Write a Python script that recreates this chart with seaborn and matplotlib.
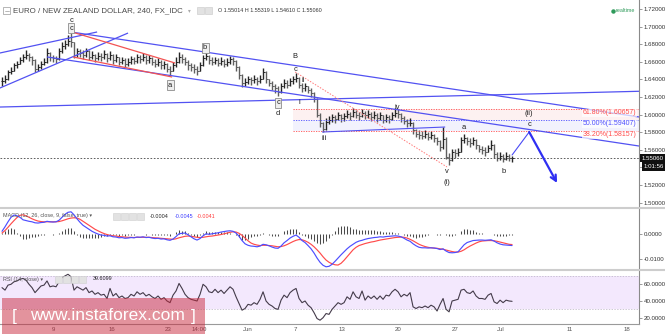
import numpy as np
import pandas as pd
import matplotlib
matplotlib.use("Agg")
import matplotlib.pyplot as plt
from matplotlib.patches import Rectangle
from matplotlib.lines import Line2D
from matplotlib.ticker import FuncFormatter
import seaborn as sns

# ---------------- EUR/NZD, 4h bars ----------------
bar_close = [
    1.638, 1.640, 1.648, 1.650, 1.656, 1.658, 1.662, 1.665, 1.668, 1.666,
    1.662, 1.652, 1.654, 1.658, 1.660, 1.670, 1.665, 1.664, 1.663, 1.672,
    1.678, 1.680, 1.684, 1.682, 1.668, 1.672, 1.670, 1.668, 1.672, 1.666,
    1.668, 1.664, 1.667, 1.665, 1.669, 1.664, 1.668, 1.662, 1.665, 1.660,
    1.662, 1.658, 1.660, 1.663, 1.661, 1.665, 1.663, 1.666, 1.662, 1.664,
    1.660, 1.658, 1.660, 1.656, 1.657, 1.652, 1.650, 1.656, 1.660, 1.666,
    1.663, 1.660, 1.656, 1.654, 1.652, 1.650, 1.656, 1.664, 1.667, 1.662,
    1.660, 1.662, 1.659, 1.661, 1.658, 1.660, 1.663, 1.661, 1.654, 1.645,
    1.636, 1.637, 1.640, 1.639, 1.641, 1.638, 1.641, 1.648, 1.640, 1.636,
    1.633, 1.630, 1.626, 1.632, 1.636, 1.634, 1.638, 1.640, 1.642, 1.634,
    1.630, 1.632, 1.628, 1.625, 1.618, 1.600, 1.590, 1.584, 1.592, 1.594,
    1.597, 1.595, 1.599, 1.596, 1.598, 1.601, 1.598, 1.603, 1.600, 1.598,
    1.602, 1.599, 1.601, 1.597, 1.600, 1.596, 1.599, 1.594, 1.597, 1.595,
    1.599, 1.602, 1.601, 1.596, 1.593, 1.590, 1.591, 1.582, 1.578, 1.577,
    1.576, 1.578, 1.575, 1.577, 1.573, 1.570, 1.563, 1.572, 1.552, 1.548,
    1.557, 1.556, 1.558, 1.571, 1.573, 1.570, 1.568, 1.571, 1.565, 1.561,
    1.560, 1.558, 1.562, 1.566, 1.555, 1.551, 1.553, 1.550, 1.553, 1.55014,
    1.55060,
]
bar_high = [
    1.643, 1.645, 1.651, 1.654, 1.659, 1.661, 1.666, 1.669, 1.673, 1.670,
    1.667, 1.663, 1.658, 1.661, 1.664, 1.676, 1.671, 1.668, 1.667, 1.676,
    1.682, 1.685, 1.690, 1.693, 1.683, 1.676, 1.675, 1.673, 1.676, 1.673,
    1.672, 1.669, 1.671, 1.670, 1.673, 1.670, 1.672, 1.669, 1.669, 1.666,
    1.666, 1.664, 1.664, 1.667, 1.666, 1.669, 1.668, 1.670, 1.668, 1.668,
    1.666, 1.663, 1.664, 1.662, 1.661, 1.659, 1.655, 1.660, 1.665, 1.671,
    1.669, 1.665, 1.662, 1.659, 1.657, 1.655, 1.660, 1.668, 1.673, 1.668,
    1.665, 1.666, 1.664, 1.665, 1.663, 1.664, 1.667, 1.666, 1.662, 1.655,
    1.646, 1.642, 1.644, 1.643, 1.645, 1.643, 1.645, 1.653, 1.649, 1.641,
    1.638, 1.635, 1.632, 1.636, 1.640, 1.639, 1.642, 1.644, 1.647, 1.643,
    1.636, 1.636, 1.633, 1.630, 1.626, 1.619, 1.602, 1.592, 1.596, 1.598,
    1.601, 1.600, 1.603, 1.601, 1.602, 1.605, 1.603, 1.608, 1.605, 1.603,
    1.606, 1.604, 1.605, 1.603, 1.604, 1.602, 1.603, 1.600, 1.601, 1.600,
    1.603, 1.607, 1.606, 1.602, 1.598, 1.595, 1.596, 1.592, 1.584, 1.582,
    1.581, 1.582, 1.580, 1.581, 1.578, 1.575, 1.571, 1.586, 1.574, 1.556,
    1.561, 1.561, 1.562, 1.575, 1.578, 1.575, 1.573, 1.575, 1.572, 1.566,
    1.564, 1.563, 1.566, 1.571, 1.567, 1.557, 1.557, 1.555, 1.557, 1.555,
    1.55319,
]
bar_low = [
    1.633, 1.636, 1.639, 1.646, 1.649, 1.653, 1.657, 1.660, 1.663, 1.661,
    1.656, 1.648, 1.650, 1.652, 1.656, 1.659, 1.661, 1.660, 1.659, 1.662,
    1.670, 1.675, 1.678, 1.677, 1.664, 1.666, 1.665, 1.663, 1.666, 1.662,
    1.663, 1.660, 1.662, 1.661, 1.663, 1.660, 1.662, 1.658, 1.660, 1.656,
    1.657, 1.654, 1.655, 1.658, 1.657, 1.659, 1.659, 1.661, 1.658, 1.659,
    1.656, 1.654, 1.655, 1.652, 1.652, 1.648, 1.645, 1.649, 1.654, 1.659,
    1.659, 1.656, 1.651, 1.649, 1.647, 1.645, 1.649, 1.655, 1.662, 1.658,
    1.656, 1.657, 1.655, 1.656, 1.654, 1.655, 1.658, 1.656, 1.650, 1.641,
    1.631, 1.633, 1.635, 1.634, 1.636, 1.634, 1.636, 1.640, 1.636, 1.632,
    1.628, 1.625, 1.621, 1.625, 1.630, 1.630, 1.633, 1.635, 1.637, 1.630,
    1.626, 1.627, 1.624, 1.620, 1.614, 1.597, 1.586, 1.580, 1.582, 1.589,
    1.592, 1.591, 1.594, 1.592, 1.593, 1.596, 1.594, 1.597, 1.596, 1.594,
    1.597, 1.595, 1.596, 1.593, 1.595, 1.592, 1.594, 1.590, 1.592, 1.591,
    1.594, 1.597, 1.596, 1.592, 1.589, 1.586, 1.587, 1.578, 1.574, 1.572,
    1.572, 1.573, 1.571, 1.572, 1.569, 1.565, 1.559, 1.561, 1.549, 1.543,
    1.547, 1.551, 1.553, 1.557, 1.568, 1.566, 1.563, 1.566, 1.561, 1.557,
    1.555, 1.553, 1.557, 1.560, 1.551, 1.547, 1.548, 1.546, 1.548, 1.547,
    1.54610,
]

# MACD (12, 26, close, 9)
macd_line = [
    0.0012, 0.0030, 0.0050, 0.0068, 0.0077, 0.0074, 0.0068, 0.0058, 0.0055, 0.0052,
    0.0050, 0.0046, 0.0045, 0.0047, 0.0048, 0.0052, 0.0050, 0.0049, 0.0050, 0.0056,
    0.0068, 0.0080, 0.0088, 0.0090, 0.0078, 0.0062, 0.0048, 0.0036, 0.0028, 0.0020,
    0.0012, 0.0006, 0.0001, -0.0003, -0.0004, -0.0007, -0.0006, -0.0010, -0.0011, -0.0014,
    -0.0013, -0.0016, -0.0015, -0.0013, -0.0014, -0.0011, -0.0012, -0.0010, -0.0013, -0.0012,
    -0.0015, -0.0017, -0.0016, -0.0019, -0.0018, -0.0022, -0.0024, -0.0019, -0.0009, 0.0002,
    0.0004, 0.0005, -0.0002, -0.0010, -0.0018, -0.0023, -0.0017, -0.0006, 0.0002, 0.0000,
    0.0002, 0.0004, 0.0006, 0.0009, 0.0011, 0.0013, 0.0014, 0.0012, 0.0005, -0.0008,
    -0.0025, -0.0038, -0.0044, -0.0047, -0.0048, -0.0050, -0.0047, -0.0040, -0.0042, -0.0046,
    -0.0051, -0.0055, -0.0056, -0.0047, -0.0034, -0.0025, -0.0015, -0.0008, -0.0003, -0.0012,
    -0.0025, -0.0033, -0.0045, -0.0058, -0.0075, -0.0095, -0.0112, -0.0124, -0.0130, -0.0128,
    -0.0120, -0.0108, -0.0095, -0.0082, -0.0070, -0.0058, -0.0048, -0.0040, -0.0032, -0.0027,
    -0.0024, -0.0020, -0.0017, -0.0015, -0.0013, -0.0012, -0.0010, -0.0011, -0.0009, -0.0008,
    -0.0007, -0.0006, -0.0007, -0.0010, -0.0016, -0.0023, -0.0028, -0.0038, -0.0046, -0.0052,
    -0.0054, -0.0054, -0.0055, -0.0054, -0.0055, -0.0057, -0.0061, -0.0058, -0.0067, -0.0073,
    -0.0074, -0.0073, -0.0070, -0.0056, -0.0042, -0.0033, -0.0029, -0.0025, -0.0024, -0.0023,
    -0.0023, -0.0024, -0.0023, -0.0022, -0.0027, -0.0034, -0.0039, -0.0042, -0.0043, -0.0044,
    -0.0045,
]
macd_signal = [
    0.0005, 0.0015, 0.0028, 0.0042, 0.0055, 0.0067, 0.0076, 0.0078, 0.0074, 0.0068,
    0.0062, 0.0057, 0.0053, 0.0051, 0.0050, 0.0050, 0.0050, 0.0050, 0.0050, 0.0051,
    0.0054, 0.0058, 0.0062, 0.0065, 0.0066, 0.0065, 0.0060, 0.0052, 0.0044, 0.0036,
    0.0028, 0.0020, 0.0014, 0.0008, 0.0003, -0.0001, -0.0004, -0.0006, -0.0007, -0.0009,
    -0.0010, -0.0011, -0.0012, -0.0012, -0.0013, -0.0012, -0.0012, -0.0012, -0.0012, -0.0012,
    -0.0013, -0.0014, -0.0015, -0.0016, -0.0017, -0.0018, -0.0019, -0.0020, -0.0018, -0.0014,
    -0.0011, -0.0008, -0.0007, -0.0008, -0.0010, -0.0012, -0.0013, -0.0012, -0.0010, -0.0008,
    -0.0007, -0.0005, -0.0003, -0.0001, 0.0002, 0.0005, 0.0008, 0.0010, 0.0009, 0.0004,
    -0.0004, -0.0015, -0.0026, -0.0035, -0.0040, -0.0043, -0.0045, -0.0044, -0.0044, -0.0045,
    -0.0046, -0.0048, -0.0050, -0.0049, -0.0046, -0.0041, -0.0035, -0.0029, -0.0024, -0.0021,
    -0.0022, -0.0026, -0.0032, -0.0040, -0.0050, -0.0062, -0.0075, -0.0090, -0.0103, -0.0112,
    -0.0118, -0.0122, -0.0123, -0.0116, -0.0104, -0.0090, -0.0076, -0.0062, -0.0052, -0.0045,
    -0.0041, -0.0037, -0.0034, -0.0031, -0.0029, -0.0026, -0.0023, -0.0021, -0.0019, -0.0017,
    -0.0015, -0.0013, -0.0012, -0.0011, -0.0012, -0.0015, -0.0020, -0.0026, -0.0033, -0.0040,
    -0.0045, -0.0049, -0.0052, -0.0054, -0.0055, -0.0056, -0.0058, -0.0060, -0.0063, -0.0066,
    -0.0069, -0.0071, -0.0071, -0.0068, -0.0062, -0.0054, -0.0047, -0.0041, -0.0035, -0.0030,
    -0.0027, -0.0026, -0.0025, -0.0025, -0.0026, -0.0028, -0.0031, -0.0034, -0.0037, -0.0040,
    -0.0041,
]

# RSI (14, close)
rsi_values = [
    56, 53, 59, 60, 63, 64, 66, 67, 65, 60,
    56, 50, 54, 58, 59, 64, 57, 58, 57, 63,
    68, 70, 72, 69, 53, 57, 55, 53, 56, 50,
    52, 48, 50, 47, 48, 43, 55, 46, 49, 44,
    46, 43, 44, 48, 46, 51, 48, 50, 46, 48,
    45, 43, 46, 42, 44, 40, 38, 47, 52, 61,
    55, 48, 44, 42, 41, 40, 48, 60, 57, 51,
    50, 54, 50, 53, 49, 53, 57, 54, 45, 37,
    29, 31, 36, 35, 38, 36, 42, 51, 40, 36,
    34, 31, 30, 41, 47, 44, 50, 53, 55, 43,
    38, 40, 35, 32, 26, 19, 17, 20, 25, 24,
    30, 34, 38, 36, 38, 45, 42, 51, 45, 43,
    52, 41, 46, 43, 46, 42, 46, 42, 47, 46,
    51, 54, 51, 45, 48, 46, 50, 33, 31, 33,
    32, 34, 32, 35, 33, 28, 36, 43, 30, 27,
    40, 41, 42, 53, 54, 50, 49, 52, 46, 43,
    43, 42, 47, 49, 39, 37, 41, 38, 41, 40,
    39.6099,
]

# time axis
x_tick_pos = [17.3, 36.7, 55.3, 65.7, 82.0, 97.7, 113.3, 132.0, 151.0, 166.3, 189.3, 208.3]
x_tick_labels = ["9", "16", "23", "14:00", "Jun", "7", "13", "20", "27", "Jul", "11", "18"]
x_range = (-0.67, 212.3)

price_ticks = [1.50, 1.52, 1.54, 1.56, 1.58, 1.60, 1.62, 1.64, 1.66, 1.68, 1.70, 1.72]
macd_ticks = [0.0, -0.01]
rsi_ticks = [20, 40, 60]

# Fibonacci retracement of wave (i)
fib_start = 97.0
fib_names = ["61.80%", "50.00%", "38.20%"]
fib_levels = [1.60657, 1.59407, 1.58157]
fib_colors = ["#ff4d4d", "#4f4fff", "#ff4d4d"]

# trend lines: (bar, price) -> (bar, price), colour, width, style
BLUE, RED = "#5252f2", "#f25353"
trend_lines = [
    ((-0.7, 1.6700), (31.7, 1.6939), BLUE, 0.9, "-"),
    ((-0.7, 1.6302), (42.0, 1.6927), BLUE, 0.9, "-"),
    ((23.0, 1.6939), (212.3, 1.5973), BLUE, 0.9, "-"),
    ((15.0, 1.6655), (212.3, 1.5643), BLUE, 0.9, "-"),
    ((-0.7, 1.6086), (212.3, 1.6265), BLUE, 0.9, "-"),
    ((23.3, 1.6939), (57.7, 1.6586), RED, 0.9, "-"),
    ((23.7, 1.6655), (56.7, 1.6427), RED, 0.9, "-"),
    ((106.7, 1.5802), (147.7, 1.5859), BLUE, 0.8, "-"),
    ((97.7, 1.6484), (148.3, 1.5405), "#ff7a7a", 0.7, (0, (1.5, 1.5))),
]
# projected wave (ii) c and the following decline
projection = [(170.0, 1.5541), (175.7, 1.5802)]
decline_end = (185.0, 1.5223)

# Elliott wave labels: text, bar, price, boxed
wave_labels = [
    ("c", 23.0, 1.7075, False),
    ("c", 23.0, 1.6984, True),
    ("a", 56.0, 1.6336, True),
    ("b", 67.7, 1.6757, True),
    ("c", 92.0, 1.6132, True),
    ("d", 92.0, 1.6018, False),
    ("B", 97.7, 1.6655, False),
    ("c", 97.7, 1.6518, False),
    ("ii", 100.3, 1.6393, False),
    ("i", 99.0, 1.6143, False),
    ("iii", 107.3, 1.5734, False),
    ("iv", 131.7, 1.6086, False),
    ("v", 148.3, 1.5359, False),
    ("(i)", 148.3, 1.5223, False),
    ("a", 154.0, 1.5848, False),
    ("b", 167.3, 1.5359, False),
    ("(ii)", 175.7, 1.6018, False),
    ("c", 175.7, 1.5882, False),
]

# ---------------- frames ----------------
bars = pd.DataFrame({"high": bar_high, "low": bar_low, "close": bar_close})
bars["bar"] = np.arange(len(bars))
bars["open"] = bars["close"].shift(1).fillna(bars["close"].iloc[0])

ind = pd.DataFrame({"bar": np.arange(len(macd_line)), "macd": macd_line,
                    "signal": macd_signal, "rsi": rsi_values})
ind["hist"] = ind["macd"] - ind["signal"]

# ---------------- figure ----------------
sns.set_theme(style="white")
plt.rcParams["font.family"] = ["Liberation Sans", "DejaVu Sans"]

W, H = 665, 334
fig = plt.figure(figsize=(W / 100, H / 100), dpi=100)
fig.patch.set_facecolor("white")


def fx(px):
    return px / W


def fy(py):
    return 1 - py / H


AXR = 639
ax_p = fig.add_axes([0, fy(208), fx(AXR), 208 / H])
ax_m = fig.add_axes([0, fy(270), fx(AXR), 62 / H])
ax_r = fig.add_axes([0, fy(324), fx(AXR), 54 / H])

# ---- price panel ----
up = bars["close"] >= bars["open"]
for mask, col in ((up, "#262626"), (~up, "#5f5f5f")):
    b = bars[mask]
    ax_p.vlines(b["bar"], b["low"], b["high"], colors=col, lw=1.0)
    ax_p.hlines(b["open"], b["bar"] - 0.5, b["bar"], colors=col, lw=0.7)
    ax_p.hlines(b["close"], b["bar"], b["bar"] + 0.5, colors=col, lw=0.7)

# Fibonacci zone
ax_p.fill_between([fib_start, x_range[1]], fib_levels[1], fib_levels[0], color="#fdf1f1", lw=0, zorder=0)
ax_p.fill_between([fib_start, x_range[1]], fib_levels[2], fib_levels[1], color="#f2f2fd", lw=0, zorder=0)
for name, lev, col in zip(fib_names, fib_levels, fib_colors):
    ax_p.hlines(lev, fib_start, x_range[1], colors=col, lw=0.6, linestyles=(0, (1.5, 1.5)))
    ax_p.annotate(f"{name}({lev:.5f})", xy=(x_range[1] - 0.9, lev), xytext=(0, -3),
                  textcoords="offset points", ha="right", va="center", fontsize=5.0, color=col,
                  bbox=dict(boxstyle="square,pad=0.1", fc="white", ec="none", alpha=0.7))

for (x0, p0), (x1, p1), col, lw, ls in trend_lines:
    ax_p.plot([x0, x1], [p0, p1], color=col, lw=lw, ls=ls, solid_capstyle="butt")

px_, py_ = zip(*projection)
ax_p.plot(px_, py_, color="#4a4af5", lw=0.8)
ax_p.annotate("", xy=decline_end, xytext=projection[-1],
              arrowprops=dict(arrowstyle="->", color="#2f2ff2", lw=1.6,
                              mutation_scale=10, shrinkA=0, shrinkB=0))

last_close = bars["close"].iloc[-1]
ax_p.axhline(last_close, color="#444", lw=0.6, ls=(0, (2, 2)))

for txt, xb, pr, boxed in wave_labels:
    kw = {}
    if boxed:
        kw["bbox"] = dict(boxstyle="square,pad=0.18", fc="#eeeeee", ec="#8c8c8c", lw=0.6)
    ax_p.text(xb, pr, txt, ha="center", va="center", fontsize=5.4, color="#1e1e1e", **kw)

ax_p.set_ylim(1.49386, 1.73023)
ax_p.set_yticks(price_ticks)
ax_p.yaxis.set_major_formatter(FuncFormatter(lambda v, _: f"{v:.5f}"))

# last price tags
tr = ax_p.get_yaxis_transform()
ax_p.text(1.004, last_close, f"{last_close:.5f}", transform=tr, ha="left", va="center",
          fontsize=4.4, color="white", clip_on=False, zorder=10,
          bbox=dict(boxstyle="square,pad=0.3", fc="#111111", ec="none"))
ax_p.annotate("1:01:56", xy=(1.004, last_close), xycoords=tr, xytext=(1.6, -6),
              textcoords="offset points", ha="left", va="center", fontsize=4.4,
              color="white", annotation_clip=False, zorder=10,
              bbox=dict(boxstyle="square,pad=0.3", fc="#111111", ec="none"))

# ---- MACD panel ----
ax_m.vlines(ind["bar"], 0, ind["hist"], colors="#4a4a4a", lw=0.75)
sns.lineplot(data=ind, x="bar", y="signal", ax=ax_m, color="#ff4b4b", lw=0.85)
sns.lineplot(data=ind, x="bar", y="macd", ax=ax_m, color="#4d4dff", lw=0.85)
ax_m.set_ylim(-0.01428, 0.01052)
ax_m.set_yticks(macd_ticks)
ax_m.yaxis.set_major_formatter(FuncFormatter(lambda v, _: f"{v:.4f}"))

# ---- RSI panel ----
ax_r.axhspan(30, 70, color="#f3e8fd", lw=0, zorder=0)
for lev in (30, 70):
    ax_r.axhline(lev, color="#b9b0c4", lw=0.5, ls=(0, (2, 2)))
sns.lineplot(data=ind, x="bar", y="rsi", ax=ax_r, color="#443b4a", lw=0.8)
ax_r.set_ylim(12.46, 77.1)
ax_r.set_yticks(rsi_ticks)
ax_r.yaxis.set_major_formatter(FuncFormatter(lambda v, _: f"{v:.4f}"))

for ax in (ax_p, ax_m, ax_r):
    ax.set_xlim(*x_range)
    ax.set_xlabel("")
    ax.set_ylabel("")
    ax.grid(False)
    for s in ("left", "top", "bottom"):
        ax.spines[s].set_visible(False)
    ax.spines["right"].set_visible(True)
    ax.spines["right"].set_color("#8a8a8a")
    ax.spines["right"].set_linewidth(0.8)
    ax.yaxis.tick_right()
    ax.tick_params(axis="y", which="both", direction="out", length=2, width=0.6,
                   color="#8a8a8a", labelsize=4.4, labelcolor="#333333", pad=1.2,
                   left=False, right=True, labelleft=False, labelright=True)
    ax.tick_params(axis="x", bottom=False, labelbottom=False)

ax_r.spines["bottom"].set_visible(True)
ax_r.spines["bottom"].set_color("#9a9a9a")
ax_r.spines["bottom"].set_linewidth(0.8)
ax_r.set_xticks(x_tick_pos)
ax_r.set_xticklabels(x_tick_labels)
ax_r.tick_params(axis="x", bottom=True, labelbottom=True, length=0, pad=2.2,
                 labelsize=4.4, labelcolor="#555555")

# panel separators
for ysep in (208, 270):
    fig.add_artist(Line2D([0, 1], [fy(ysep), fy(ysep)], color="#cdcdcd", lw=1.5))

# ---- header texts ----
fig.add_artist(Rectangle((fx(3), fy(14)), fx(7), 7 / H, fill=False, ec="#9a9a9a", lw=0.5))
fig.add_artist(Line2D([fx(4.5), fx(8.5)], [fy(10.5), fy(10.5)], color="#9a9a9a", lw=0.5))
fig.text(fx(13), fy(11), "EURO / NEW ZEALAND DOLLAR, 240, FX_IDC", fontsize=5.7,
         color="#4a4a4a", va="center", ha="left")
fig.text(fx(188), fy(11), "\u25be", fontsize=4, color="#aaaaaa", va="center",
         family=["DejaVu Sans"])
for xi in (197, 205):
    fig.add_artist(Rectangle((fx(xi), fy(14)), fx(7), 7 / H, fc="#e2e2e2", ec="#c8c8c8", lw=0.4))
last = bars.iloc[-1]
fig.text(fx(218), fy(11),
         f"O {last['open']:.5f} H {last['high']:.5f} L {last['low']:.5f} C {last['close']:.5f}",
         fontsize=3.9, color="#333333", va="center", ha="left")
fig.add_artist(Line2D([fx(612.5)], [fy(11)], marker="o", ms=2.2, color="#2e9a5a", lw=0))
fig.text(fx(615.5), fy(11), "realtime", fontsize=3.9, color="#2e9a5a", va="center", ha="left")

# MACD header
fig.text(fx(3), fy(216), "MACD (12, 26, close, 9, false, true) \u25be", fontsize=3.9,
         color="#555555", va="center", ha="left", family=["Liberation Sans", "DejaVu Sans"])
for xi in (113, 121, 129, 137):
    fig.add_artist(Rectangle((fx(xi), fy(219.5)), fx(7), 7 / H, fc="#e2e2e2", ec="#cfcfcf", lw=0.4))
hist_last, macd_last, sig_last = ind["hist"].iloc[-1], ind["macd"].iloc[-1], ind["signal"].iloc[-1]
fig.text(fx(150), fy(216), f"{hist_last:.4f}", fontsize=3.9, color="#222222", va="center")
fig.text(fx(175), fy(216), f"{macd_last:.4f}", fontsize=3.9, color="#3b3bff", va="center")
fig.text(fx(197), fy(216), f"{sig_last:.4f}", fontsize=3.9, color="#ff3b3b", va="center")

# RSI header
fig.text(fx(3), fy(279), "RSI (14, close) \u25be", fontsize=3.9, color="#555555",
         va="center", ha="left", family=["Liberation Sans", "DejaVu Sans"])
for xi in (55, 63, 71, 79):
    fig.add_artist(Rectangle((fx(xi), fy(282.5)), fx(7), 7 / H, fc="#e2e2e2", ec="#cfcfcf", lw=0.4))
fig.text(fx(93), fy(279), f"{ind['rsi'].iloc[-1]:.4f}", fontsize=3.9, color="#222222", va="center")

# site banner
fig.add_artist(Rectangle((fx(2), 0), fx(203), 36 / H, transform=fig.transFigure,
                         fc="#c8283c", ec="none", alpha=0.5, zorder=20))
fig.text(fx(12), fy(316), "[", fontsize=12.5, color="white", va="center", ha="left", zorder=21)
fig.text(fx(107), fy(316), "www.instaforex.com", fontsize=12.5, color="white",
         va="center", ha="center", zorder=21)
fig.text(fx(191), fy(316), "]", fontsize=12.5, color="white", va="center", ha="left", zorder=21)

fig.savefig("out.png", dpi=100, facecolor="white")
